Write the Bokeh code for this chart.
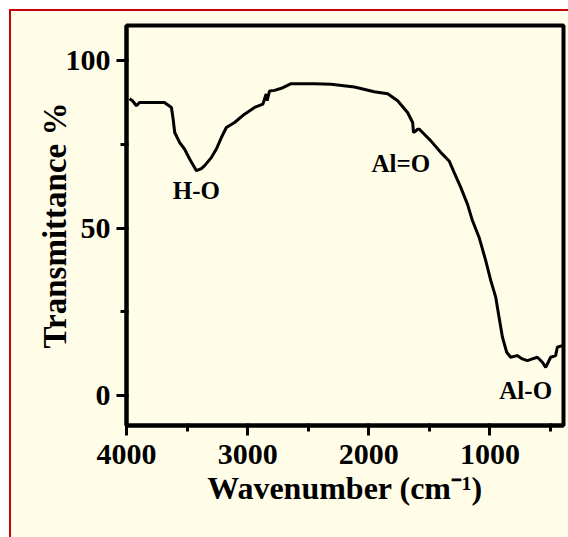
from bokeh.plotting import figure
from bokeh.layouts import column
from bokeh.embed import file_html
from bokeh.resources import INLINE
from bokeh.models import Range1d, FixedTicker, ColumnDataSource
from bokeh.core.properties import value

# ---- data ----
wavenumber = [3975, 3951, 3918, 3893, 3794, 3687, 3629, 3615, 3602, 3561, 3520, 3479,
              3423, 3382, 3355, 3300, 3259, 3217, 3176, 3108, 3026, 2943, 2874, 2861,
              2847, 2839, 2820, 2778, 2709, 2641, 2449, 2311, 2119, 1955, 1844, 1762,
              1680, 1638, 1631, 1611, 1597, 1584, 1556, 1488, 1405, 1337, 1296, 1241,
              1186, 1144, 1090, 1035, 993, 952, 925, 897, 862, 829, 775, 733, 691,
              650, 609, 567, 540, 499, 458, 444, 403]
transmittance = [88.7, 88.1, 86.6, 87.6, 87.6, 87.6, 86.1, 82.6, 78.6, 75.6, 73.6, 70.7,
                 67.2, 67.8, 68.7, 71.1, 73.6, 77.1, 80.1, 81.6, 84.1, 86.1, 87.1, 88.6,
                 90.1, 88.1, 91.0, 91.2, 92.0, 93.2, 93.2, 93.0, 92.2, 90.8, 90.2, 88.1,
                 84.6, 81.6, 78.6, 79.1, 79.6, 79.6, 78.6, 76.1, 72.6, 70.1, 66.7, 62.2,
                 57.2, 52.2, 47.3, 40.3, 34.3, 29.3, 23.4, 17.4, 12.9, 11.4, 11.9, 10.9, 10.4,
                 10.9, 11.4, 9.9, 8.4, 11.4, 11.9, 14.4, 14.9]

x_major_ticks = [4000, 3000, 2000, 1000]
x_minor_ticks = [3500, 2500, 1500, 500]
y_major_ticks = [0, 50, 100]
y_minor_ticks = [25, 75]

band_labels = ["H-O", "Al=O", "Al-O"]
band_x = [3423, 1735, 705]
band_y = [61.2, 69.3, 1.5]

x_label = "Wavenumber (cm\u207b\u00b9)"
y_label = "Transmittance %"

# ---- figure ----
BG = "#FFFDE8"
FONT = "Liberation Serif"

p = figure(width=557, height=526, output_backend="svg", toolbar_location=None,
           x_range=Range1d(4000, 393), y_range=Range1d(-9, 110.6),
           min_border_left=115, min_border_right=5, min_border_top=14,
           min_border_bottom=112)
p.styles = {"outline": "2px solid #cc0000"}

p.background_fill_color = BG
p.border_fill_color = BG
p.outline_line_color = "black"
p.outline_line_width = 4
p.xgrid.visible = False
p.ygrid.visible = False

p.xaxis.ticker = FixedTicker(ticks=x_major_ticks, minor_ticks=x_minor_ticks)
p.yaxis.ticker = FixedTicker(ticks=y_major_ticks, minor_ticks=y_minor_ticks)

for ax in p.xaxis + p.yaxis:
    ax.axis_line_width = 4
    ax.axis_line_color = "black"
    ax.major_tick_line_width = 3
    ax.minor_tick_line_width = 3
    ax.major_tick_line_color = "black"
    ax.minor_tick_line_color = "black"
    ax.major_tick_in = 2
    ax.minor_tick_in = 2
    ax.major_tick_out = 10
    ax.minor_tick_out = 6
    ax.major_label_text_font = FONT
    ax.major_label_text_font_style = "bold"
    ax.major_label_text_font_size = "30px"
    ax.major_label_text_color = "black"
    ax.axis_label_text_font = FONT
    ax.axis_label_text_font_style = "bold"
    ax.axis_label_text_color = "black"

p.xaxis.axis_label = x_label
p.yaxis.axis_label = y_label
p.xaxis.axis_label_text_font_size = "32px"
p.yaxis.axis_label_text_font_size = "33px"
p.xaxis.major_label_standoff = 9
p.yaxis.major_label_standoff = 6
p.xaxis.axis_label_standoff = 3
p.yaxis.axis_label_standoff = -10

src = ColumnDataSource(dict(x=wavenumber, y=transmittance))
p.line("x", "y", source=src, line_color="black", line_width=3)

lab = ColumnDataSource(dict(x=band_x, y=band_y, t=band_labels))
p.text("x", "y", text="t", source=lab, text_font=value(FONT), text_font_style="bold",
       text_font_size="25px", text_align="center", text_baseline="middle",
       text_color="black")

root = column(p, styles={"padding-top": "11px", "padding-left": "11px",
                         "background-color": "white"})

open("out.html", "w").write(file_html(root, INLINE))
